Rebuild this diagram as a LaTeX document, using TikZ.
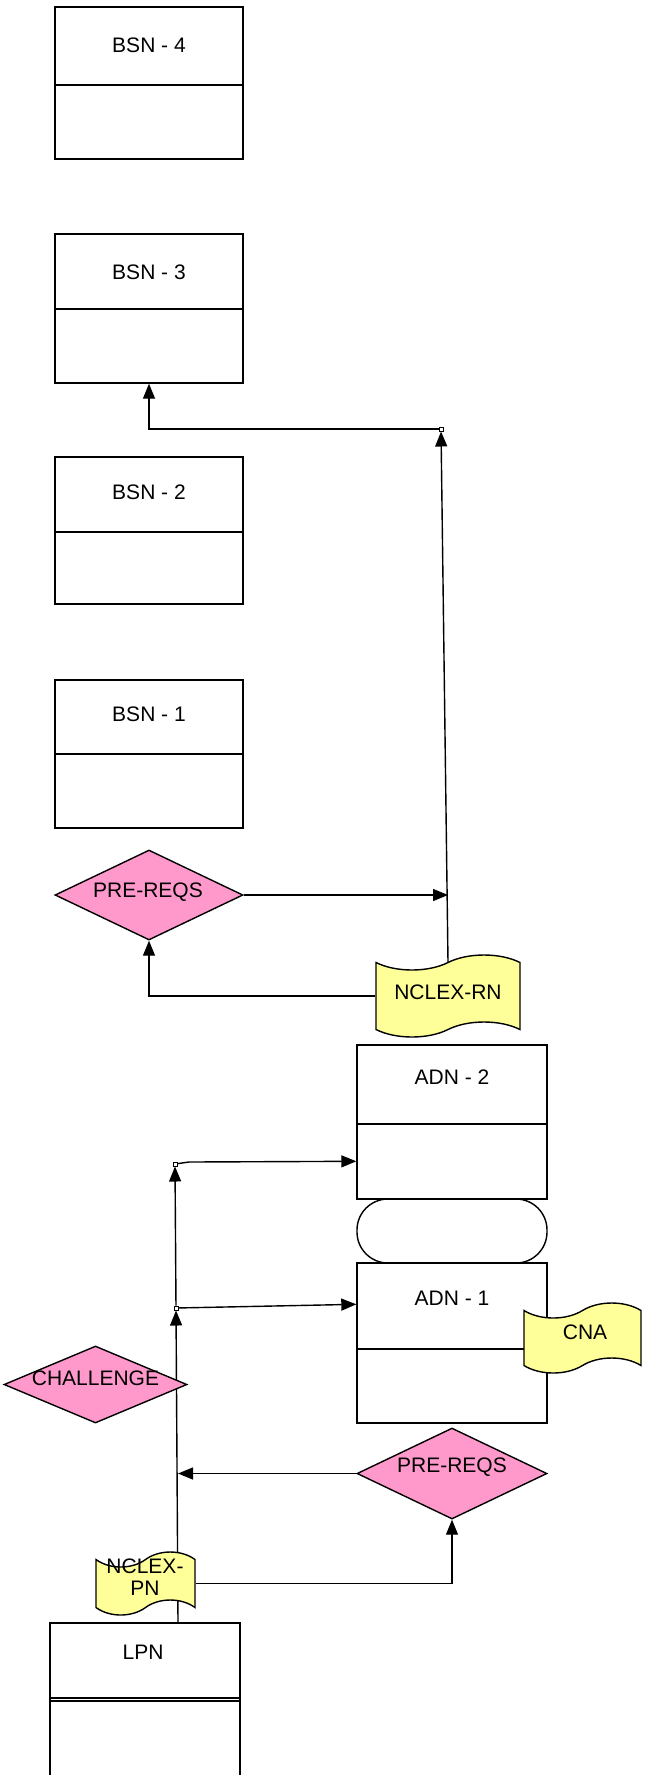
\documentclass[tikz,border=0pt]{standalone}
\usepackage{fontspec}
\setmainfont{Liberation Sans}
\usetikzlibrary{shapes.geometric,shapes.symbols,arrows.meta}
\definecolor{pinkc}{HTML}{FF99CC}
\definecolor{yelc}{HTML}{FFFF99}
\pgfdeclarelayer{bg}
\pgfsetlayers{bg,main}
\begin{document}
\begin{tikzpicture}[x=1pt,y=-1pt,
  lw/.style={line width=1.4pt},
  box/.style={draw, lw, rectangle, inner sep=0pt, minimum width=188pt},
  dec/.style={draw, lw, diamond, fill=pinkc, inner sep=0pt},
  tp/.style={draw, lw, tape, fill=yelc, inner sep=0pt, tape bend height=15pt},
  term/.style={draw, lw, rectangle, rounded corners=31pt, inner sep=0pt},
  txt/.style={inner sep=0pt, text depth=0pt, font=\fontsize{21}{22}\selectfont, align=center},
  arr/.style={lw, -{Triangle[length=15pt,width=12pt]}},
  jn/.style={draw, line width=1pt, fill=white, rectangle, minimum size=4pt, inner sep=0pt}]
\useasboundingbox (0,0) rectangle (645,1775);

% BSN boxes
\node[box, minimum height=152pt] (bsn4) at (149,83) {};
\draw[lw] (bsn4.west |- 0,85) -- (bsn4.east |- 0,85);
\node[txt] (bsn4t) at (149,45) {BSN - 4};

\node[box, minimum height=149pt] (bsn3) at (149,308.5) {};
\draw[lw] (bsn3.west |- 0,309) -- (bsn3.east |- 0,309);
\node[txt] (bsn3t) at (149,272) {BSN - 3};

\node[box, minimum height=147pt] (bsn2) at (149,530.5) {};
\draw[lw] (bsn2.west |- 0,532) -- (bsn2.east |- 0,532);
\node[txt] (bsn2t) at (149,492) {BSN - 2};

\node[box, minimum height=148pt] (bsn1) at (149,754) {};
\draw[lw] (bsn1.west |- 0,754) -- (bsn1.east |- 0,754);
\node[txt] (bsn1t) at (149,714) {BSN - 1};

% upper decision
\node[dec, minimum width=188pt, minimum height=90pt] (pr1) at (149,895) {};
\node[txt] (pr1t) at (148,890) {PRE-REQS};

% NCLEX-RN
\node[tp, minimum width=144pt, minimum height=82pt] (nrn) at (448,996) {};
\node[txt] (nrnt) at (448,992) {NCLEX-RN};

% ADN boxes
\node[box, minimum width=190pt, minimum height=154pt] (adn2) at (452,1122) {};
\draw[lw] (adn2.west |- 0,1124) -- (adn2.east |- 0,1124);
\node[txt] (adn2t) at (452,1077) {ADN - 2};

\node[term, minimum width=190pt, minimum height=64pt] (trm) at (452,1231) {};

\node[box, minimum width=190pt, minimum height=160pt] (adn1) at (452,1343) {};
\draw[lw] (adn1.west |- 0,1349) -- (adn1.east |- 0,1349);
\node[txt] (adn1t) at (452,1298) {ADN - 1};

% CNA
\node[tp, minimum width=117pt, minimum height=70pt] (cna) at (582.5,1338) {};
\node[txt] (cnat) at (585,1332) {CNA};

% CHALLENGE
\node[dec, minimum width=183pt, minimum height=77pt] (chl) at (95.5,1384.5) {};
\node[txt] (chlt) at (95.5,1378) {CHALLENGE};

% lower decision
\node[dec, minimum width=190pt, minimum height=91pt] (pr2) at (452,1473.5) {};
\node[txt] (pr2t) at (452,1465) {PRE-REQS};

% LPN
\node[box, minimum width=190pt, minimum height=153pt] (lpn) at (145,1699.5) {};
\draw[lw] (lpn.west |- 0,1698) -- (lpn.east |- 0,1698);
\draw[lw] (lpn.west |- 0,1701) -- (lpn.east |- 0,1701);
\node[txt] (lpnt) at (143,1652) {LPN};

% NCLEX-PN
\node[tp, minimum width=99pt, minimum height=63pt] (npn) at (145.5,1583.5) {};
\node[txt] (npnt) at (145,1577) {NCLEX-\\PN};

% junctions
\node[jn] (j1) at (441,429) {};
\node[jn] (j2) at (175,1164) {};
\node[jn] (j3) at (176,1308) {};

\begin{pgfonlayer}{bg}
\draw[arr] (nrn.north) -- (j1);
\draw[arr] (j1) -- (j1 -| bsn3.south) -- (bsn3.south);
\draw[arr] (pr1.east) -- (pr1.east -| nrn.north);
\draw[arr] (nrn.west) -- (nrn.west -| pr1.south) -- (pr1.south);
\draw[arr] (lpn.north -| 178,0) -- (j3);
\draw[arr] (j3) -- (j2);
\draw[arr] (j2) -- ++(14,-2) -- ([yshift=-117pt]adn2.north west);
\draw[arr] (j3) -- ([yshift=-42pt]adn1.north west);
\draw[arr] (pr2.west) -- (pr2.west -| 178,0);
\draw[arr] (npn.east) -- (npn.east -| pr2.south) -- (pr2.south);
\end{pgfonlayer}
\end{tikzpicture}
\end{document}
